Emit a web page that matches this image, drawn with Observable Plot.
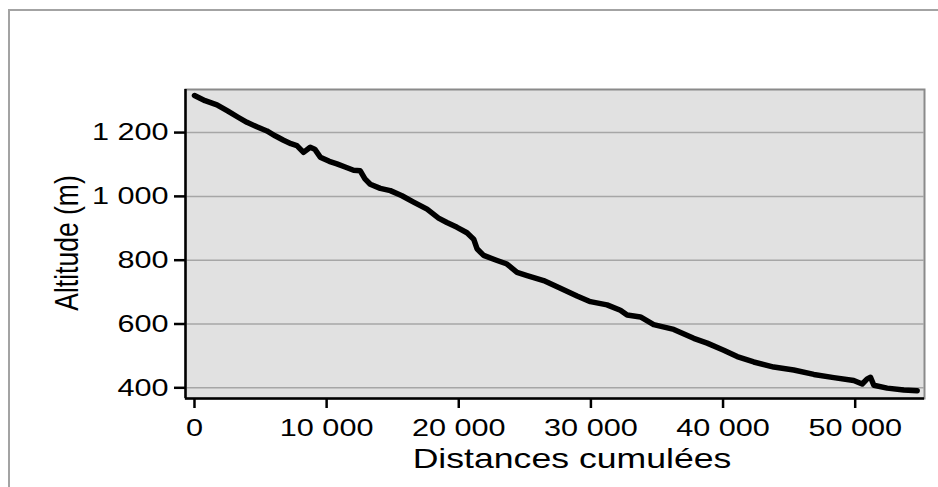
<!DOCTYPE html>
<html>
<head>
<meta charset="utf-8">
<script src="https://cdn.jsdelivr.net/npm/d3@7"></script>
<script src="https://cdn.jsdelivr.net/npm/@observablehq/plot@0.6"></script>
<style>
  html, body { margin: 0; padding: 0; background: #fff; }
  #chart svg { display: block; }
</style>
</head>
<body>
<div id="chart"></div>
<script>
const distances = [0, 800, 1700, 2500, 3300, 3970, 4720, 5480, 6100, 6740, 7300, 7750, 8250, 8760, 9100, 9520, 10200, 10780, 11400, 12040, 12545, 12900, 13300, 14060, 14820, 15700, 16580, 17600, 18470, 19100, 19870, 20620, 21130, 21380, 21880, 22900, 23650, 24410, 25170, 26420, 27690, 28950, 29960, 31220, 32230, 32740, 33750, 34750, 36270, 37780, 38800, 40050, 41070, 42320, 43840, 45350, 46870, 48380, 49890, 50530, 50910, 51160, 51410, 52420, 53680, 54690];
const altitudes = [1316, 1300, 1287, 1268, 1248, 1232, 1218, 1205, 1190, 1176, 1165, 1159, 1138, 1154, 1148, 1123, 1110, 1102, 1092, 1082, 1080, 1055, 1038, 1025, 1018, 1002, 982, 960, 932, 918, 903, 886, 866, 836, 815, 799, 788, 762, 752, 736, 712, 688, 670, 660, 643, 628, 622, 598, 583, 555, 540, 518, 498, 481, 465, 456, 442, 432, 423, 412, 428, 433, 408, 399, 393, 391];
const xTicks = [0, 10000, 20000, 30000, 40000, 50000];
const yTicks = [400, 600, 800, 1000, 1200];
const xDomain = [-680, 55245];
const yDomain = [366.5, 1335];
const xTitle = "Distances cumulées";
const yTitle = "Altitude (m)";

const profile = distances.map((d, i) => ({d, alt: altitudes[i]}));
const fmt = d3.formatLocale({decimal: ",", thousands: " ", grouping: [3], currency: ["", ""]}).format(",d");

const W = 938, H = 487, SX = 1.25;
const chart = Plot.plot({
  width: W, height: H,
  marginLeft: 185, marginRight: 14, marginTop: 89, marginBottom: 89,
  style: {fontFamily: "'Liberation Sans', Arial, sans-serif", color: "#000", background: "#fff", overflow: "visible"},
  x: {domain: xDomain},
  y: {domain: yDomain},
  marks: [
    Plot.frame({fill: "#e1e1e1", stroke: "#8a8a8a", strokeWidth: 2}),
    Plot.gridY(yTicks, {stroke: "#a6a6a6", strokeOpacity: 1, strokeWidth: 1.5}),
    Plot.ruleX([xDomain[0]], {stroke: "#000", strokeWidth: 2.5}),
    Plot.ruleY([yDomain[0]], {stroke: "#000", strokeWidth: 2.5}),
    Plot.line(profile, {x: "d", y: "alt", stroke: "#000", strokeWidth: 5.5, strokeLinejoin: "round", strokeLinecap: "round"}),
    Plot.axisY(yTicks, {tickFormat: fmt, tickSize: 11, tickPadding: 6, strokeWidth: 2.5, stroke: "#000", fill: "#000", fontSize: 24.5, label: null}),
    Plot.axisX(xTicks, {tickFormat: fmt, tickSize: 10, tickPadding: 10, strokeWidth: 2.5, stroke: "#000", fill: "#000", fontSize: 24.5, label: null})
  ]
});

const svg = d3.select(chart);
// horizontally widened glyphs, as in the reference
svg.selectAll('g[aria-label="x-axis tick label"] text, g[aria-label="y-axis tick label"] text')
  .each(function () {
    const t = d3.select(this);
    const tr = t.attr("transform") || "";
    t.attr("transform", `${tr} scale(${SX},1)`).style("font-size", "24.5px");
  });
svg.insert("path", ":first-child")
  .attr("d", `M9,${H} L9,10 L${W},10`)
  .attr("fill", "none").attr("stroke", "#a3a3a3").attr("stroke-width", 2);
svg.append("text")
  .attr("transform", `translate(572,468) scale(${SX},1)`)
  .attr("text-anchor", "middle")
  .style("font-size", "28.5px")
  .attr("fill", "#000")
  .text(xTitle);
svg.append("text")
  .attr("transform", `translate(78,243) scale(${SX},1) rotate(-90)`)
  .attr("text-anchor", "middle")
  .style("font-size", "26.5px")
  .attr("fill", "#000")
  .text(yTitle);

document.getElementById("chart").appendChild(chart);
</script>
</body>
</html>
